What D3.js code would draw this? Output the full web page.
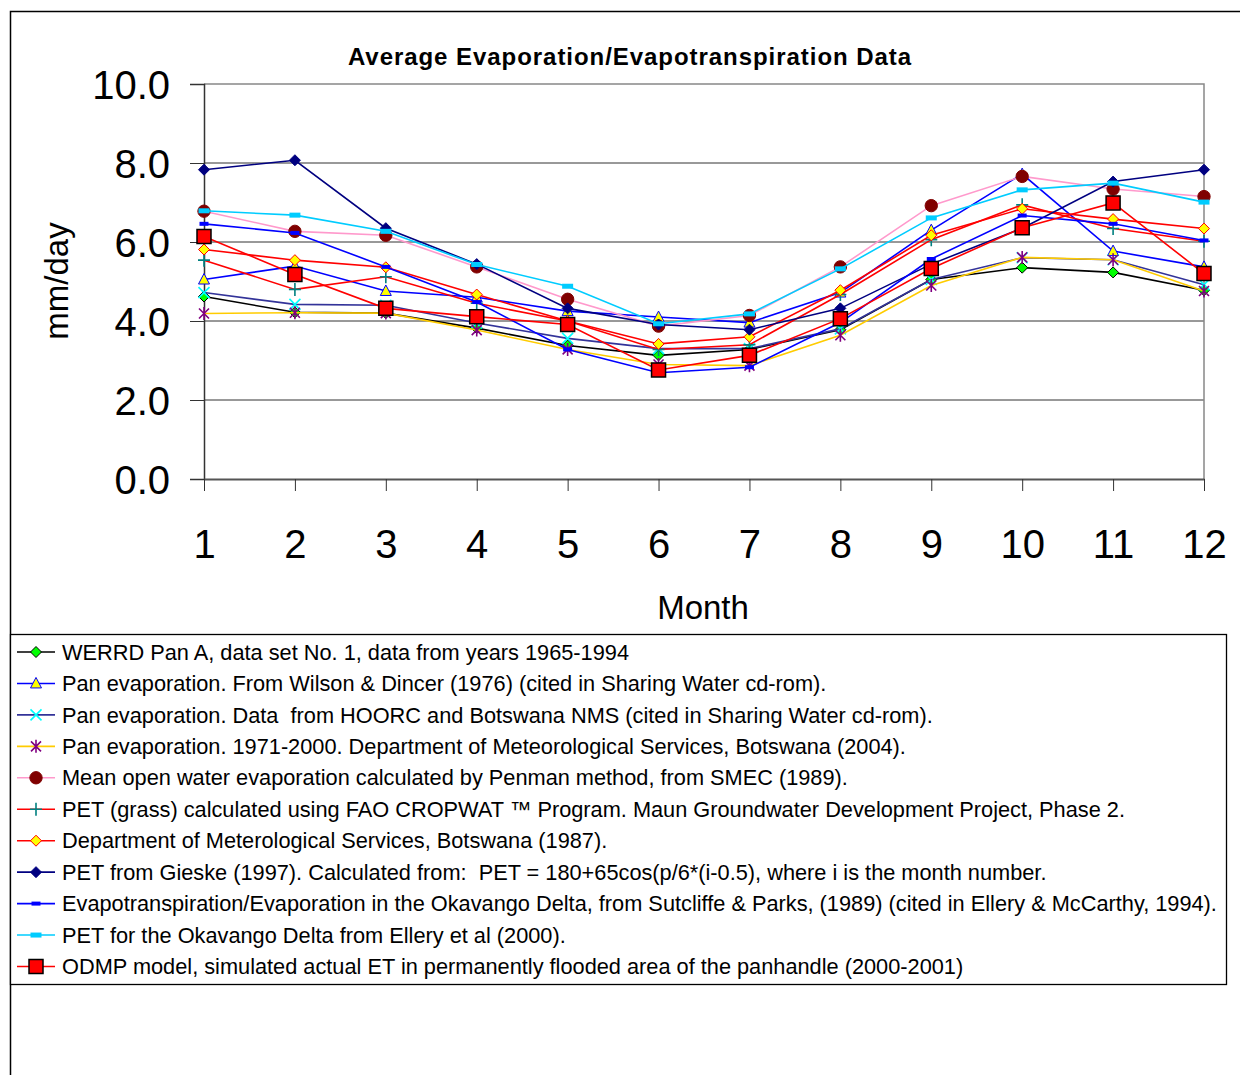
<!DOCTYPE html>
<html>
<head>
<meta charset="utf-8">
<script src="https://cdn.jsdelivr.net/npm/d3@7/dist/d3.min.js"></script>
<style>
  html, body { margin: 0; padding: 0; background: #fff; }
  svg { display: block; font-family: "Liberation Sans", Arial, sans-serif; }
  .legend-label { white-space: pre; }
</style>
</head>
<body>
<svg id="chart" width="1240" height="1075"></svg>
<script>
// Months on the x axis
const months = [1, 2, 3, 4, 5, 6, 7, 8, 9, 10, 11, 12];
const yTicks = [0, 2, 4, 6, 8, 10];

// Monthly evaporation / evapotranspiration, mm/day
const werrdPanA     = [4.62, 4.22, 4.20, 3.82, 3.38, 3.13, 3.28, 3.78, 5.05, 5.35, 5.23, 4.78];
const wilsonDincer  = [5.05, 5.39, 4.76, 4.60, 4.25, 4.10, 3.96, 4.72, 6.30, 7.72, 5.77, 5.37];
const hoorcNms      = [4.72, 4.42, 4.40, 3.95, 3.56, 3.30, 3.30, 3.80, 5.05, 5.60, 5.55, 4.92];
const pan19712000   = [4.19, 4.21, 4.20, 3.77, 3.28, 2.90, 2.87, 3.64, 4.90, 5.61, 5.55, 4.76];
const penmanSmec    = [6.78, 6.27, 6.17, 5.37, 4.55, 3.87, 4.14, 5.37, 6.92, 7.66, 7.34, 7.15];
const cropwatPet    = [5.54, 4.80, 5.12, 4.45, 4.00, 3.28, 3.40, 4.67, 6.06, 6.94, 6.34, 6.02];
const dms1987       = [5.81, 5.54, 5.36, 4.67, 4.00, 3.42, 3.60, 4.78, 6.17, 6.84, 6.58, 6.34];
const gieskePet     = [7.83, 8.07, 6.35, 5.44, 4.32, 3.91, 3.78, 4.32, 5.44, 6.35, 7.53, 7.83];
const sutcliffePark = [6.46, 6.23, 5.37, 4.48, 3.28, 2.69, 2.83, 3.96, 5.57, 6.67, 6.46, 6.04];
const elleryPet     = [6.79, 6.68, 6.27, 5.43, 4.88, 3.93, 4.18, 5.32, 6.61, 7.32, 7.49, 7.01];
const odmpModel     = [6.14, 5.18, 4.32, 4.11, 3.91, 2.76, 3.13, 4.06, 5.33, 6.36, 6.99, 5.20];

const seriesNames = [
  "WERRD Pan A, data set No. 1, data from years 1965-1994",
  "Pan evaporation. From Wilson & Dincer (1976) (cited in Sharing Water cd-rom).",
  "Pan evaporation. Data  from HOORC and Botswana NMS (cited in Sharing Water cd-rom).",
  "Pan evaporation. 1971-2000. Department of Meteorological Services, Botswana (2004).",
  "Mean open water evaporation calculated by Penman method, from SMEC (1989).",
  "PET (grass) calculated using FAO CROPWAT \u2122 Program. Maun Groundwater Development Project, Phase 2.",
  "Department of Meterological Services, Botswana (1987).",
  "PET from Gieske (1997). Calculated from:  PET = 180+65cos(p/6*(i-0.5), where i is the month number.",
  "Evapotranspiration/Evaporation in the Okavango Delta, from Sutcliffe & Parks, (1989) (cited in Ellery & McCarthy, 1994).",
  "PET for the Okavango Delta from Ellery et al (2000).",
  "ODMP model, simulated actual ET in permanently flooded area of the panhandle (2000-2001)"
];
const seriesValues = [werrdPanA, wilsonDincer, hoorcNms, pan19712000, penmanSmec, cropwatPet,
                      dms1987, gieskePet, sutcliffePark, elleryPet, odmpModel];

// Line colour and marker style for each series
const styles = [
  { line: "#000000", marker: "diamond",  fill: "#00FF00", stroke: "#000000" },
  { line: "#0000FF", marker: "triangle", fill: "#FFFF00", stroke: "#0000FF" },
  { line: "#333399", marker: "cross",    fill: "none",    stroke: "#00FFFF" },
  { line: "#FFCC00", marker: "asterisk", fill: "none",    stroke: "#800080" },
  { line: "#FF99CC", marker: "circle",   fill: "#800000", stroke: "#800000" },
  { line: "#FF0000", marker: "plus",     fill: "none",    stroke: "#008080" },
  { line: "#FF0000", marker: "diamond",  fill: "#FFFF00", stroke: "#FF0000" },
  { line: "#000080", marker: "diamond",  fill: "#000080", stroke: "#000080" },
  { line: "#0000FF", marker: "dash",     fill: "#0000FF", stroke: "none" },
  { line: "#00CCFF", marker: "wdash",    fill: "#00CCFF", stroke: "none" },
  { line: "#FF0000", marker: "square",   fill: "#FF0000", stroke: "#000000" }
];

// Marker outline paths, centred on 0,0
function markerPath(kind) {
  switch (kind) {
    case "diamond":  return "M0,-5.5L5.5,0L0,5.5L-5.5,0Z";
    case "triangle": return "M0,-6L5.5,4.5L-5.5,4.5Z";
    case "cross":    return "M-5.5,-5.5L5.5,5.5M5.5,-5.5L-5.5,5.5";
    case "asterisk": return "M-5,-5L5,5M5,-5L-5,5M0,-6.5L0,6.5";
    case "plus":     return "M-6,0L6,0M0,-6.5L0,6.5";
    case "circle":   return d3.symbol(d3.symbolCircle, 120)();
    case "dash":     return "M-4.5,-2L4.5,-2L4.5,2L-4.5,2Z";
    case "wdash":    return "M-5.5,-2.5L5.5,-2.5L5.5,2.5L-5.5,2.5Z";
    case "square":   return "M-7,-7L7,-7L7,7L-7,7Z";
  }
}
function markerStrokeWidth(kind) {
  if (kind === "cross" || kind === "asterisk" || kind === "plus") return 1.6;
  if (kind === "square") return 1.5;
  return 1;
}

const svg = d3.select("#chart");

// Outer chart frame
svg.append("rect")
  .attr("x", 10.5).attr("y", 11.5).attr("width", 1260).attr("height", 1100)
  .attr("fill", "#fff").attr("stroke", "#000").attr("stroke-width", 1.5);

const plot = { left: 204, right: 1204, top: 84, bottom: 479 };
const x = d3.scaleLinear().domain([1, 12]).range([plot.left, plot.right]);
const y = d3.scaleLinear().domain([0, 10]).range([plot.bottom, plot.top]);

// Title
svg.append("text")
  .attr("x", 630).attr("y", 65)
  .attr("text-anchor", "middle")
  .attr("font-size", 24).attr("font-weight", "bold")
  .attr("letter-spacing", 0.95)
  .text("Average Evaporation/Evapotranspiration Data");

// Horizontal grid lines
svg.append("g").selectAll("line")
  .data(yTicks.filter(v => v > 0 && v < 10))
  .join("line")
  .attr("x1", plot.left).attr("x2", plot.right)
  .attr("y1", d => y(d)).attr("y2", d => y(d))
  .attr("stroke", "#333").attr("stroke-width", 1);

// Plot frame: top and right in grey
svg.append("path")
  .attr("d", `M${plot.left},${y(10)}H${plot.right}V${plot.bottom}`)
  .attr("fill", "none").attr("stroke", "#888").attr("stroke-width", 1.5);

// Y axis
const yAxis = d3.axisLeft(y).tickValues(yTicks).tickFormat(d3.format(".1f"))
  .tickSize(14).tickPadding(20);
const gy = svg.append("g").attr("transform", `translate(${plot.left},0)`).call(yAxis);
gy.select(".domain").attr("stroke", "#333").attr("stroke-width", 1.5);
gy.selectAll(".tick line").attr("stroke", "#333");
gy.selectAll(".tick text")
  .attr("font-size", 40).attr("font-family", "Liberation Sans, Arial, sans-serif")
  .attr("fill", "#000").attr("dy", "0.36em");

// X axis
const xAxis = d3.axisBottom(x).tickValues(months).tickFormat(d3.format("d"))
  .tickSize(12).tickSizeOuter(0).tickPadding(53);
const gx = svg.append("g").attr("transform", `translate(0,${plot.bottom})`).call(xAxis);
gx.select(".domain").attr("stroke", "#555").attr("stroke-width", 2);
gx.selectAll(".tick line").attr("stroke", "#333");
gx.selectAll(".tick text")
  .attr("font-size", 40).attr("font-family", "Liberation Sans, Arial, sans-serif")
  .attr("fill", "#000").attr("dy", "0.35em");

// Axis titles
svg.append("text")
  .attr("x", 703).attr("y", 619)
  .attr("text-anchor", "middle").attr("font-size", 33)
  .text("Month");
svg.append("text")
  .attr("transform", "translate(68,281) rotate(-90)")
  .attr("text-anchor", "middle").attr("font-size", 33)
  .text("mm/day");

// Series lines and markers
const line = d3.line().x((d, i) => x(months[i])).y(d => y(d));
const seriesG = svg.append("g");
seriesValues.forEach((vals, si) => {
  const st = styles[si];
  const g = seriesG.append("g");
  g.append("path")
    .attr("d", line(vals))
    .attr("fill", "none").attr("stroke", st.line).attr("stroke-width", 1.6);
  g.selectAll("path.m")
    .data(vals)
    .join("path").attr("class", "m")
    .attr("transform", (d, i) => `translate(${x(months[i])},${y(d)})`)
    .attr("d", markerPath(st.marker))
    .attr("fill", st.fill).attr("stroke", st.stroke)
    .attr("stroke-width", markerStrokeWidth(st.marker));
});

// Legend
const legend = { left: 10.5, top: 634.5, right: 1226.5, bottom: 984.5, row0: 652, step: 31.45 };
svg.append("rect")
  .attr("x", legend.left).attr("y", legend.top)
  .attr("width", legend.right - legend.left).attr("height", legend.bottom - legend.top)
  .attr("fill", "#fff").attr("stroke", "#000").attr("stroke-width", 1.3);

const items = svg.append("g").selectAll("g")
  .data(seriesNames.map((name, i) => ({ name, st: styles[i], i })))
  .join("g")
  .attr("transform", d => `translate(0,${legend.row0 + d.i * legend.step})`);
items.append("line")
  .attr("x1", 17).attr("x2", 55).attr("y1", 0).attr("y2", 0)
  .attr("stroke", d => d.st.line).attr("stroke-width", 1.6);
items.append("path")
  .attr("transform", "translate(36,0)")
  .attr("d", d => markerPath(d.st.marker))
  .attr("fill", d => d.st.fill).attr("stroke", d => d.st.stroke)
  .attr("stroke-width", d => markerStrokeWidth(d.st.marker));
items.append("text")
  .attr("class", "legend-label")
  .attr("x", 62).attr("y", 0).attr("dy", "0.35em")
  .attr("font-size", 21.75)
  .text(d => d.name);
</script>
</body>
</html>
